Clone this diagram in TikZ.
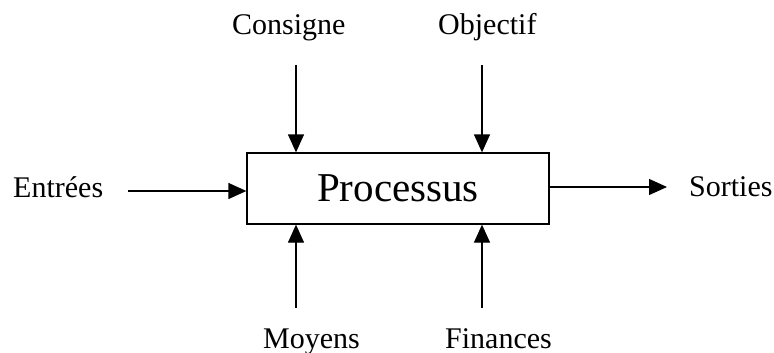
\documentclass[tikz,border=0pt]{standalone}
\usepackage{fontspec}
\setmainfont{Liberation Serif}
\usetikzlibrary{arrows.meta}
\begin{document}
\begin{tikzpicture}[x=1pt,y=-1pt,
  lbl/.style={font=\fontsize{30}{36}\selectfont, inner sep=0pt, anchor=base west},
  flow/.style={line width=1.3pt, -{Triangle[length=18pt,width=16pt]}},
  procbox/.style={draw, line width=1.3pt, minimum width=302pt, minimum height=71pt,
                  inner sep=0pt, font=\fontsize{41}{48}\selectfont}]
\useasboundingbox (0,0) rectangle (774,353);
\fill[white] (0,0) rectangle (774,353);

% central process box
\node[procbox] (proc) at (398,188.5) {Processus};

% labels
\node[lbl] (cons) at (232,35) {Consigne};
\node[lbl] (obj)  at (438,35) {Objectif};
\node[lbl] (moy)  at (263,348) {Moyens};
\node[lbl] (fin)  at (445,348) {Finances};
\node[lbl] (ent)  at (13,197) {Entrées};
\node[lbl] (sor)  at (689,196) {Sorties};

% free ends of the connectors
\coordinate (consA) at (296,65);
\coordinate (objA)  at (482,65);
\coordinate (moyA)  at (296,308);
\coordinate (finA)  at (482,308);
\coordinate (entA)  at (128,191);
\coordinate (sorA)  at (667,187);

% connectors
\draw[flow] (consA) -- (consA |- proc.north);
\draw[flow] (objA)  -- (objA |- proc.north);
\draw[flow] (moyA)  -- (moyA |- proc.south);
\draw[flow] (finA)  -- (finA |- proc.south);
\draw[flow] (entA)  -- (entA -| proc.west);
\draw[flow] (proc.east |- sorA) -- (sorA);
\end{tikzpicture}
\end{document}
